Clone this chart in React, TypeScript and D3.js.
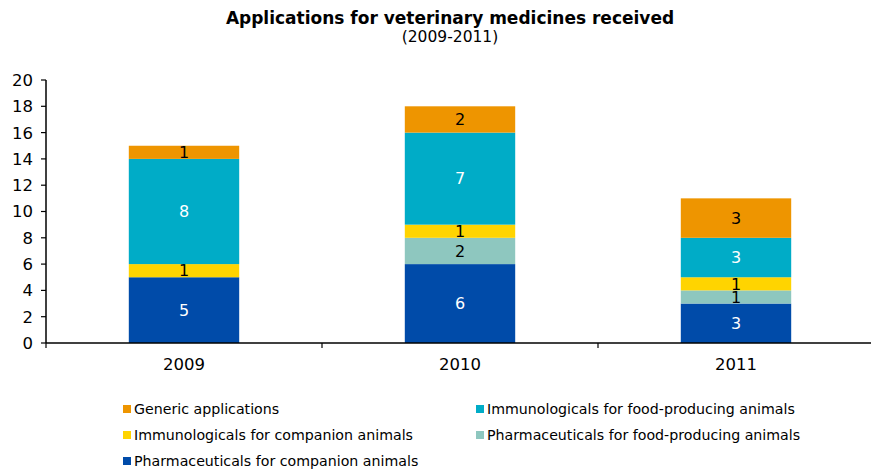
import React from 'react'
import * as d3 from 'd3'

const years = ['2009', '2010', '2011']
const seriesNames = [
  'Pharmaceuticals for companion animals',
  'Pharmaceuticals for food-producing animals',
  'Immunologicals for companion animals',
  'Immunologicals for food-producing animals',
  'Generic applications',
]
const pharmaCompanion = [5, 6, 3]
const pharmaFood = [0, 2, 1]
const immunoCompanion = [1, 1, 1]
const immunoFood = [8, 7, 3]
const generic = [1, 2, 3]
const colors = ['#004BA9', '#8EC7BF', '#FFD400', '#00ACC7', '#EE9500']
const labelColors = ['#fff', '#000', '#000', '#fff', '#000']
const yTicks = [0, 2, 4, 6, 8, 10, 12, 14, 16, 18, 20]
// legend order as in the picture
const legendOrder = [4, 3, 2, 1, 0]

const W = 871
const H = 475
const font = 'Verdana, "DejaVu Sans", sans-serif'

export default function App() {
  const margin = { left: 46, right: -3, top: 80, bottom: 132 }
  const x = d3.scaleBand()
    .domain(years)
    .range([margin.left, W - margin.right])
    .paddingInner(0.6)
    .paddingOuter(0.3)
  const y = d3.scaleLinear().domain([0, 20]).range([H - margin.bottom, margin.top])

  const rows = years.map((yr, i) => ({
    year: yr,
    s0: pharmaCompanion[i],
    s1: pharmaFood[i],
    s2: immunoCompanion[i],
    s3: immunoFood[i],
    s4: generic[i],
  }))
  const stack = d3.stack<any>().keys(['s0', 's1', 's2', 's3', 's4'])
  const layers = stack(rows)
  const step = x.step()
  const x0 = margin.left

  return (
    <svg width={W} height={H} style={{ position: 'absolute', left: 0, top: 0, background: '#fff' }} fontFamily={font}>
      <text x={450} y={24} textAnchor="middle" fontWeight="bold" fontSize={17}>
        Applications for veterinary medicines received
      </text>
      <text x={450} y={42} textAnchor="middle" fontSize={15.5}>(2009-2011)</text>

      {layers.map((layer, k) =>
        layer.map((d, i) => {
          const v = d[1] - d[0]
          if (v <= 0) return null
          const bx = x(years[i])!
          return (
            <g key={k + '-' + i}>
              <rect x={bx} y={y(d[1])} width={x.bandwidth()} height={y(d[0]) - y(d[1])} fill={colors[k]} />
              <text x={bx + x.bandwidth() / 2} y={(y(d[0]) + y(d[1])) / 2} dy="0.36em"
                textAnchor="middle" fontSize={16} fill={labelColors[k]}>{v}</text>
            </g>
          )
        })
      )}

      {/* y axis */}
      <line x1={x0} x2={x0} y1={y(20)} y2={y(0)} stroke="#000" strokeWidth={1.5} />
      {yTicks.map(t => (
        <g key={t}>
          <line x1={x0 - 5} x2={x0} y1={y(t)} y2={y(t)} stroke="#000" strokeWidth={1.2} />
          <text x={x0 - 13} y={y(t)} dy="0.36em" textAnchor="end" fontSize={16.5}>{t}</text>
        </g>
      ))}
      {/* x axis */}
      <line x1={x0} x2={W} y1={y(0)} y2={y(0)} stroke="#000" strokeWidth={1.5} />
      {d3.range(years.length + 1).map(i => (
        <line key={i} x1={x0 + i * step} x2={x0 + i * step} y1={y(0)} y2={y(0) + 5} stroke="#000" strokeWidth={1.2} />
      ))}
      {years.map(yr => (
        <text key={yr} x={x(yr)! + x.bandwidth() / 2} y={y(0) + 21} dy="0.36em" textAnchor="middle" fontSize={16.5}>{yr}</text>
      ))}

      {/* legend */}
      {legendOrder.map((k, j) => {
        const col = j % 2
        const row = Math.floor(j / 2)
        const lx = col === 0 ? 123 : 476
        const ly = 409 + row * 26
        return (
          <g key={k}>
            <rect x={lx} y={ly - 4} width={8} height={8} fill={colors[k]} />
            <text x={lx + 11} y={ly} dy="0.36em" fontSize={14.2}>{seriesNames[k]}</text>
          </g>
        )
      })}
    </svg>
  )
}
